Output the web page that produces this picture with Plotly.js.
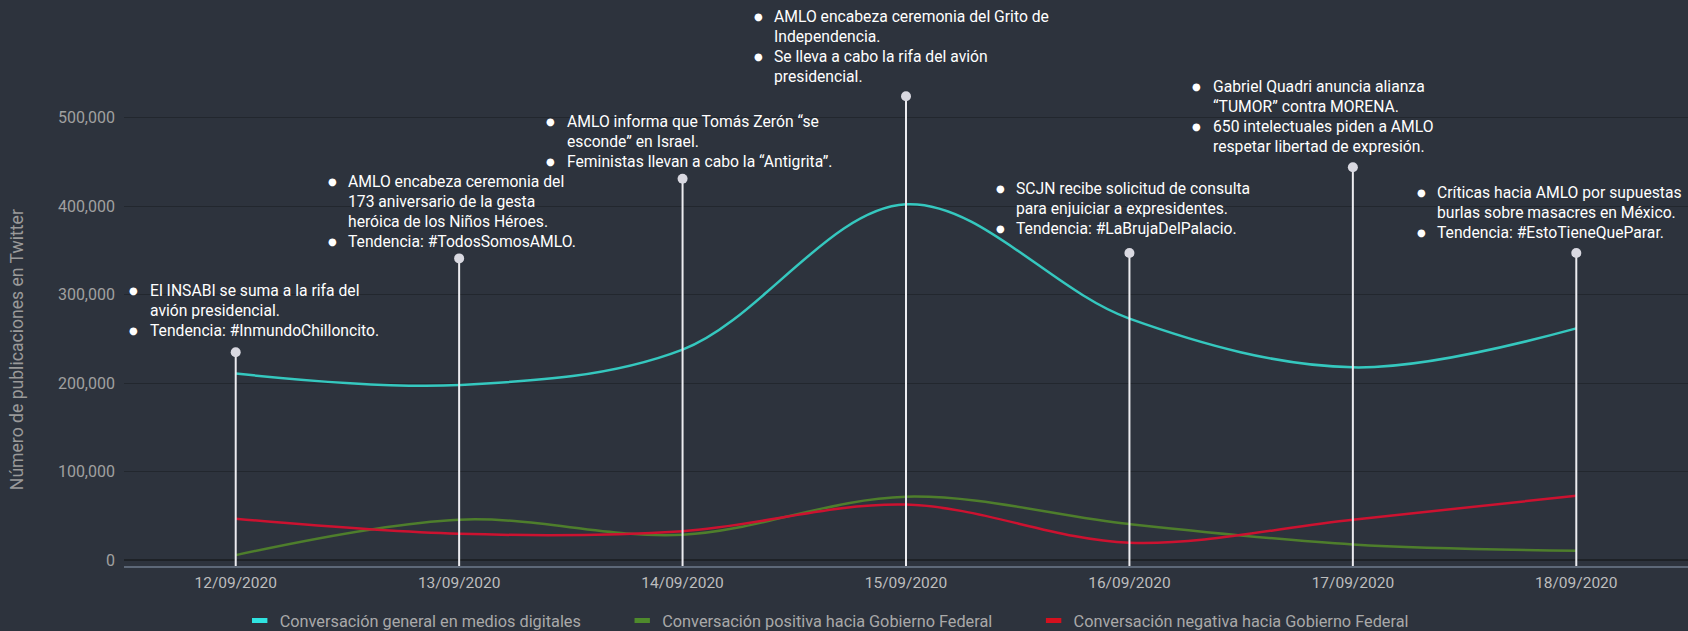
<!DOCTYPE html>
<html>
<head>
<meta charset="utf-8">
<script src="https://cdn.plot.ly/plotly-3.0.1.min.js"></script>
<style>
  html, body { margin: 0; padding: 0; background: #2d333d; }
  #chart { width: 1688px; height: 631px; }
</style>
</head>
<body>
<div id="chart"></div>
<script>
// ---------- DATA ----------
const categories = ['12/09/2020', '13/09/2020', '14/09/2020', '15/09/2020', '16/09/2020', '17/09/2020', '18/09/2020'];
const seriesNames = [
  'Conversación general en medios digitales',
  'Conversación positiva hacia Gobierno Federal',
  'Conversación negativa hacia Gobierno Federal'
];
const generalValues  = [211000, 198000, 238000, 402000, 273000, 218000, 262000];
const positiveValues = [6000, 46000, 29000, 72000, 41000, 18000, 11000];
const negativeValues = [47000, 30000, 33000, 63000, 20000, 46000, 73000];
const flagValues     = [235000, 341000, 431000, 524000, 347000, 444000, 347000];
const yTickValues = [0, 100000, 200000, 300000, 400000, 500000];
const yTitle = 'Número de publicaciones en Twitter';

// each event: list of bullet items, each item a list of lines
const eventTexts = [
  [['El INSABI se suma a la rifa del', 'avión presidencial.'], ['Tendencia: #InmundoChilloncito.']],
  [['AMLO encabeza ceremonia del', '173 aniversario de la gesta', 'heróica de los Niños Héroes.'], ['Tendencia: #TodosSomosAMLO.']],
  [['AMLO informa que Tomás Zerón “se', 'esconde” en Israel.'], ['Feministas llevan a cabo la “Antigrita”.']],
  [['AMLO encabeza ceremonia del Grito de', 'Independencia.'], ['Se lleva a cabo la rifa del avión', 'presidencial.']],
  [['SCJN recibe solicitud de consulta', 'para enjuiciar a expresidentes.'], ['Tendencia: #LaBrujaDelPalacio.']],
  [['Gabriel Quadri anuncia alianza', '“TUMOR” contra MORENA.'], ['650 intelectuales piden a AMLO', 'respetar libertad de expresión.']],
  [['Críticas hacia AMLO por supuestas', 'burlas sobre masacres en México.'], ['Tendencia: #EstoTieneQueParar.']]
];

// ---------- STYLE / LAYOUT CONFIG ----------
const colors = ['#35c8bf', '#4e7e2c', '#cc1230'];
const legendColors = ['#2fe3e0', '#4e8a2c', '#d4101e'];
const yMin = -6300, yMax = 600000;
// label block offsets (px) relative to each flag marker: text left, first line centre
const blockOffsets = [
  [-87, -62], [-112, -77], [-117, -57], [-133, -80], [-114, -65], [-141, -81], [-140, -61]
];
const lineStep = 20;
const bulletGap = 15;

const xIdx = categories.map((c, i) => i);

const traces = [];
const seriesValues = [generalValues, positiveValues, negativeValues];
seriesValues.forEach((vals, s) => {
  traces.push({
    x: xIdx, y: vals, type: 'scatter', mode: 'lines',
    line: { color: colors[s], width: 2.5, shape: 'spline', smoothing: 1 },
    showlegend: false, hoverinfo: 'skip'
  });
});
// legend entries
seriesNames.forEach((n, s) => {
  traces.push({
    x: [null], y: [null], type: 'scatter', mode: 'markers',
    name: n + (s < seriesNames.length - 1 ? '\u00a0'.repeat(9) : ''),
    marker: { symbol: 'line-ew-open', size: 11, color: legendColors[s], line: { width: 5, color: legendColors[s] } },
    showlegend: true, hoverinfo: 'skip'
  });
});
// flag stems
const stemX = [], stemY = [];
flagValues.forEach((v, i) => { stemX.push(i, i, null); stemY.push(yMin, v, null); });
traces.push({
  x: stemX, y: stemY, type: 'scatter', mode: 'lines',
  line: { color: '#ececf0', width: 2 }, showlegend: false, hoverinfo: 'skip', cliponaxis: false
});
traces.push({
  x: xIdx, y: flagValues, type: 'scatter', mode: 'markers',
  marker: { color: '#d9d9e1', size: 10 }, showlegend: false, hoverinfo: 'skip', cliponaxis: false
});

// annotations
const annotations = [];
eventTexts.forEach((items, i) => {
  const [dx, dy] = blockOffsets[i];
  let k = 0;
  items.forEach(lines => {
    lines.forEach((ln, j) => {
      const ys = -(dy + k * lineStep);
      if (j === 0) {
        annotations.push({
          x: i, y: flagValues[i], xref: 'x', yref: 'y', text: '●',
          xanchor: 'center', yanchor: 'middle', showarrow: false,
          xshift: dx - bulletGap, yshift: ys,
          font: { family: 'DejaVu Sans', size: 10, color: '#ffffff' }
        });
      }
      annotations.push({
        x: i, y: flagValues[i], xref: 'x', yref: 'y', text: ln,
        xanchor: 'left', yanchor: 'middle', showarrow: false,
        xshift: dx, yshift: ys, borderpad: 0,
        font: { family: 'Roboto', size: 15.7, color: '#ffffff' }
      });
      k++;
    });
  });
});
// y-axis title (placed like the reference, slightly below plot centre)
annotations.push({
  xref: 'paper', yref: 'paper', x: -0.0684, y: 0.402,
  xanchor: 'center', yanchor: 'middle', textangle: -90, showarrow: false,
  text: yTitle, font: { family: 'Roboto', size: 17.6, color: '#9a9a9a' }
});

const layout = {
  width: 1688, height: 631,
  paper_bgcolor: '#2d333d', plot_bgcolor: '#2d333d',
  margin: { l: 124, r: 0, t: 29, b: 65 },
  font: { family: 'Roboto', color: '#a8a8a8' },
  xaxis: {
    type: 'linear', range: [-0.5, 6.5], tickvals: xIdx, ticktext: categories,
    showgrid: false, zeroline: false, showline: true, linecolor: '#5d6878', linewidth: 2,
    ticks: '', ticklabelstandoff: 1,
    tickfont: { family: 'Roboto', size: 15.5, color: '#bdbdbd' }, fixedrange: true
  },
  yaxis: {
    range: [yMin, yMax], tickvals: yTickValues, tickformat: ',d',
    showgrid: true, gridcolor: '#22272e', gridwidth: 1,
    zeroline: true, zerolinecolor: '#1e2227', zerolinewidth: 2,
    showline: false, ticks: '', ticklabelstandoff: 8,
    tickfont: { family: 'Roboto', size: 16, color: '#a0a0a0' },
    fixedrange: true
  },
  legend: {
    orientation: 'h', xref: 'container', yref: 'container',
    x: 0.142, xanchor: 'left', y: 0.016, yanchor: 'middle',
    font: { family: 'Roboto', size: 16.3, color: '#a9a9a9' },
    bgcolor: 'rgba(0,0,0,0)'
  },
  annotations: annotations,
  showlegend: true
};

Plotly.newPlot('chart', traces, layout, { staticPlot: true, displayModeBar: false });
</script>
</body>
</html>
